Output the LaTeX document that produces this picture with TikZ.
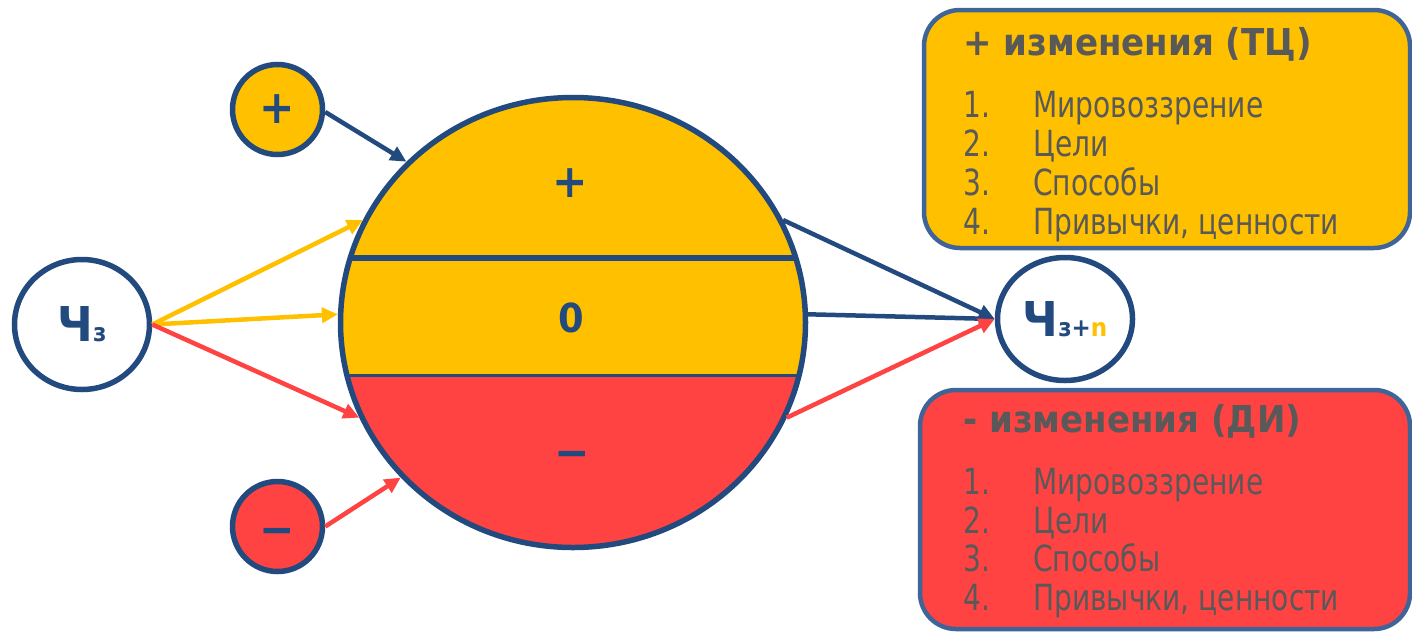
\documentclass[tikz,border=0pt]{standalone}
\usepackage{fontspec}
\setmainfont{DejaVu Sans}
\newfontfamily\listfont[FakeStretch=0.78]{DejaVu Sans}
\newfontfamily\headfont[FakeStretch=0.92]{DejaVu Sans}
\usetikzlibrary{arrows.meta,shapes.geometric}
\definecolor{navy}{HTML}{224A7E}
\definecolor{boxblue}{HTML}{3E6498}
\definecolor{ylw}{HTML}{FFC000}
\definecolor{rd}{HTML}{FF4343}
\definecolor{gry}{HTML}{595959}
\newcommand\mychf{\headfont\bfseries\fontsize{48}{48}\selectfont}
\newcommand\mysubf{\fontsize{25}{25}\selectfont}
\begin{document}
\begin{tikzpicture}[x=1pt,y=-1pt,
  ring/.style={draw=navy, line width=5.5pt, inner sep=0pt},
  arr/.style={line width=4.5pt, -{Triangle[length=16pt,width=15pt]}},
  sign/.style={text=navy, font=\headfont\bfseries\fontsize{46}{46}\selectfont, inner sep=0pt},
  zsign/.style={text=navy, font=\headfont\bfseries\fontsize{40}{40}\selectfont, inner sep=0pt},
  panel/.style={draw=boxblue, line width=4.5pt, rounded corners=36pt, inner sep=0pt},
  head/.style={anchor=base west, inner sep=0pt, text=gry, font=\headfont\bfseries\fontsize{37}{40}\selectfont},
  item/.style={anchor=base west, inner sep=0pt, text=gry, font=\listfont\fontsize{36}{40}\selectfont},
]
\useasboundingbox (0,0) rectangle (1412,632);

% right panels
\node[panel, fill=ylw, minimum width=486pt, minimum height=238pt] (tbox) at (1167,129) {};
\node[panel, fill=rd, minimum width=490pt, minimum height=239pt] (bbox) at (1165,509.5) {};

\node[head] (th) at (963,55) {+ изменения (ТЦ)};
\node[item] (tn1) at (963,117) {1.};
\node[item] (tn2) at (963,156) {2.};
\node[item] (tn3) at (963,195) {3.};
\node[item] (tn4) at (963,234) {4.};
\node[item] (ti1) at (1033,117) {Мировоззрение};
\node[item] (ti2) at (1033,156) {Цели};
\node[item] (ti3) at (1033,195) {Способы};
\node[item] (ti4) at (1033,234) {Привычки, ценности};

\node[head] (bh) at (963,432) {- изменения (ДИ)};
\node[item] (bn1) at (963,494) {1.};
\node[item] (bn2) at (963,533) {2.};
\node[item] (bn3) at (963,571) {3.};
\node[item] (bn4) at (963,610) {4.};
\node[item] (bi1) at (1033,494) {Мировоззрение};
\node[item] (bi2) at (1033,533) {Цели};
\node[item] (bi3) at (1033,571) {Способы};
\node[item] (bi4) at (1033,610) {Привычки, ценности};

% big circle
\begin{scope}
  \clip (573,322.5) ellipse [x radius=232.5pt, y radius=225pt];
  \fill[ylw] (330,90) rectangle (820,375);
  \fill[rd] (330,375) rectangle (820,560);
  \draw[navy, line width=6pt] (330,258) -- (820,258);
  \draw[navy, line width=3pt] (330,375) -- (820,375);
\end{scope}
\node[ring, ellipse, minimum width=465pt, minimum height=450pt] (main) at (573,322.5) {};
\node[sign] (sp) at (570,183) {+};
\node[zsign] (sz) at (571,318) {0};
\node[sign] (sm) at (572,459.5) {−};

% small circles
\node[ring, circle, fill=ylw, minimum size=90pt] (plus) at (277.5,109.5) {};
\node[sign] (plust) at (277.5,109.5) {+};
\node[ring, circle, fill=rd, minimum size=90pt] (minus) at (277.5,526.5) {};
\node[sign] (minust) at (277.5,536.5) {−};
\node[ring, ellipse, minimum width=135pt, minimum height=130pt, text=navy] (ch) at (82,324.5) {\mychf Ч{\mysubf з}};
\node[ring, ellipse, minimum width=135pt, minimum height=123pt, text=navy] (chn) at (1065,319) {\mychf Ч{\mysubf з+\textcolor{ylw}{n}}};

% arrows
\draw[arr, navy] (plus.-3) -- (main.136);
\draw[arr, ylw] (ch.east) -- (main.154);
\draw[arr, ylw] (ch.east) -- (main.178);
\draw[arr, rd] (ch.east) -- (main.204);
\draw[arr, rd] (minus.east) -- (main.222);
\draw[arr, navy] (main.26) -- (chn.west);
\draw[arr, navy] (main.2) -- (chn.west);
\draw[arr, rd] (main.336) -- (chn.west);
\end{tikzpicture}
\end{document}
